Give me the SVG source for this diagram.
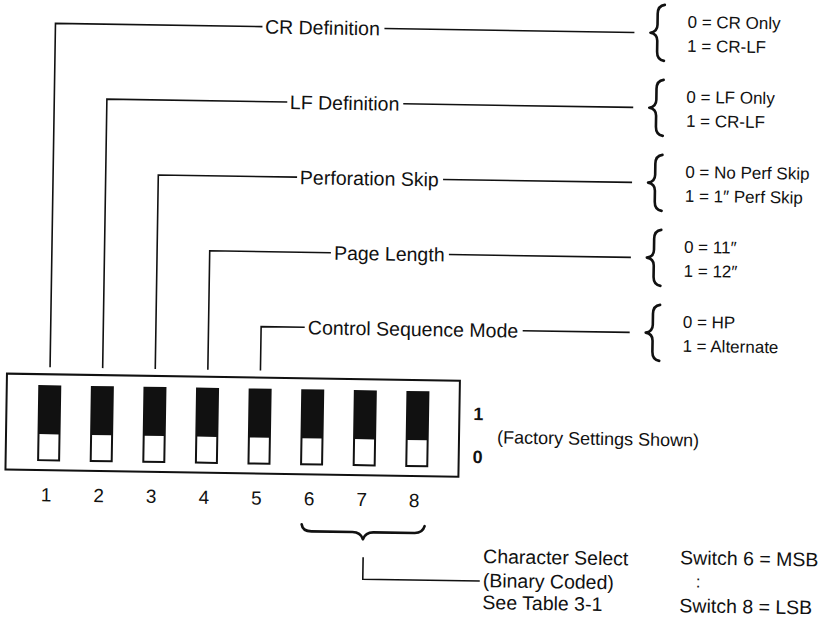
<svg xmlns="http://www.w3.org/2000/svg" width="828" height="622" viewBox="0 0 828 622">
<style>
text{font-family:"Liberation Sans",Arial,sans-serif;fill:#111}
.lbl{font-size:19.5px}
.val{font-size:17px}
.num{font-size:19px;text-anchor:middle}
.bold{font-size:18px;font-weight:bold}
.ln{fill:none;stroke:#111;stroke-width:1.6}
.br{fill:none;stroke:#111;stroke-width:2.6;stroke-linejoin:round;stroke-linecap:round}
.sw{fill:#fff;stroke:#111;stroke-width:2}
.blk{fill:#111}
</style>
<rect width="828" height="622" fill="#fff"/>
<g transform="rotate(0.9 414 311)">
<g id="connectors">
<path class="ln" d="M51 373V29H258"/>
<path class="ln" d="M103.6 373V104H284"/>
<path class="ln" d="M156.2 373V179H295"/>
<path class="ln" d="M208.8 373V254H330"/>
<path class="ln" d="M261.4 373V329H305"/>
<path class="ln" d="M380 29H630"/>
<path class="ln" d="M400 104H630"/>
<path class="ln" d="M441 179H630"/>
<path class="ln" d="M448 254H630"/>
<path class="ln" d="M523 329H630"/>
<path class="ln" d="M367 558V580H484"/>
</g>
<g id="cr-definition">
<text class="lbl" x="260.6" y="36">CR Definition</text>
<path class="br" d="M660 1Q653 2 653 10V21Q653 28 646 29Q653 30 653 37V48Q653 56 660 57"/>
<text class="val" x="683" y="23.5">0 = CR Only</text>
<text class="val" x="683" y="47.5">1 = CR-LF</text>
</g>
<g id="lf-definition">
<text class="lbl" x="286.7" y="111">LF Definition</text>
<path class="br" d="M660 76Q653 77 653 85V96Q653 103 646 104Q653 105 653 112V123Q653 131 660 132"/>
<text class="val" x="683" y="98.5">0 = LF Only</text>
<text class="val" x="683" y="122.5">1 = CR-LF</text>
</g>
<g id="perforation-skip">
<text class="lbl" x="297.9" y="186">Perforation Skip</text>
<path class="br" d="M660 151Q653 152 653 160V171Q653 178 646 179Q653 180 653 187V198Q653 206 660 207"/>
<text class="val" x="683" y="173.5">0 = No Perf Skip</text>
<text class="val" x="683" y="197.5">1 = 1″ Perf Skip</text>
</g>
<g id="page-length">
<text class="lbl" x="333.1" y="261">Page Length</text>
<path class="br" d="M660 226Q653 227 653 235V246Q653 253 646 254Q653 255 653 262V273Q653 281 660 282"/>
<text class="val" x="683" y="248.5">0 = 11″</text>
<text class="val" x="683" y="272.5">1 = 12″</text>
</g>
<g id="control-sequence-mode">
<text class="lbl" x="308.2" y="336">Control Sequence Mode</text>
<path class="br" d="M660 301Q653 302 653 310V321Q653 328 646 329Q653 330 653 337V348Q653 356 660 357"/>
<text class="val" x="683" y="323.5">0 = HP</text>
<text class="val" x="683" y="347.5">1 = Alternate</text>
</g>
<g id="switch-block">
<rect x="8" y="380" width="453" height="96" fill="#fff" stroke="#111" stroke-width="2"/>
<g id="switch-1"><rect class="sw" x="40.5" y="392" width="21" height="74"/><rect class="blk" x="40.5" y="392" width="21" height="48"/><text class="num" x="49" y="507">1</text></g>
<g id="switch-2"><rect class="sw" x="93.1" y="392" width="21" height="74"/><rect class="blk" x="93.1" y="392" width="21" height="48"/><text class="num" x="101.6" y="507">2</text></g>
<g id="switch-3"><rect class="sw" x="145.7" y="392" width="21" height="74"/><rect class="blk" x="145.7" y="392" width="21" height="48"/><text class="num" x="154.2" y="507">3</text></g>
<g id="switch-4"><rect class="sw" x="198.3" y="392" width="21" height="74"/><rect class="blk" x="198.3" y="392" width="21" height="48"/><text class="num" x="206.8" y="507">4</text></g>
<g id="switch-5"><rect class="sw" x="250.9" y="392" width="21" height="74"/><rect class="blk" x="250.9" y="392" width="21" height="48"/><text class="num" x="259.4" y="507">5</text></g>
<g id="switch-6"><rect class="sw" x="303.5" y="392" width="21" height="74"/><rect class="blk" x="303.5" y="392" width="21" height="48"/><text class="num" x="312" y="507">6</text></g>
<g id="switch-7"><rect class="sw" x="356.1" y="392" width="21" height="74"/><rect class="blk" x="356.1" y="392" width="21" height="48"/><text class="num" x="364.6" y="507">7</text></g>
<g id="switch-8"><rect class="sw" x="408.7" y="392" width="21" height="74"/><rect class="blk" x="408.7" y="392" width="21" height="48"/><text class="num" x="417.2" y="507">8</text></g>
<text class="bold" x="475" y="419">1</text>
<text class="bold" x="475" y="462">0</text>
</g>
<g id="factory-note">
<text class="val" x="499" y="442" style="font-size:18px">(Factory Settings Shown)</text>
</g>
<g id="character-select">
<path class="br" d="M305 526Q306 533 315 533H356Q364 533 366.5 540Q369 533 377 533H418Q426 533 428 526"/>
<text class="lbl" x="487" y="562">Character Select</text>
<text class="lbl" x="487" y="586">(Binary Coded)</text>
<text class="lbl" x="487" y="608">See Table 3-1</text>
<text class="lbl" x="684" y="560">Switch 6 = MSB</text>
<text class="lbl" x="700" y="583" style="font-size:17px">:</text>
<text class="lbl" x="684" y="608">Switch 8 = LSB</text>
</g>
</g>
</svg>
